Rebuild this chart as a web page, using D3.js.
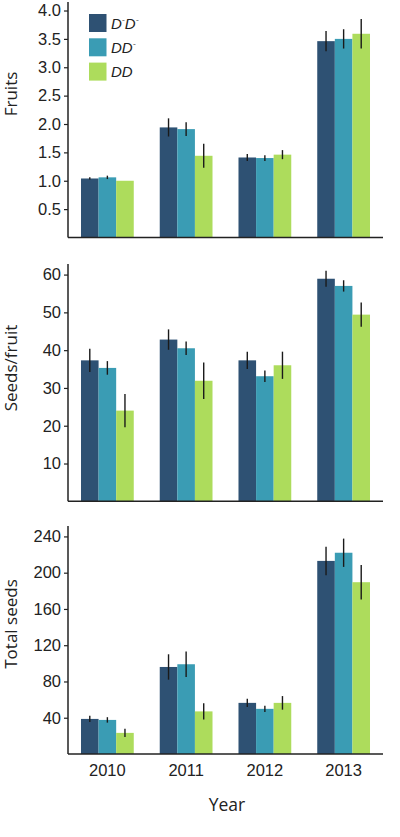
<!DOCTYPE html>
<html>
<head>
<meta charset="utf-8">
<script src="https://cdn.jsdelivr.net/npm/d3@7"></script>
<style>
  html, body { margin: 0; padding: 0; background: #fff; }
  svg { display: block; }
</style>
</head>
<body>
<svg id="chart" width="400" height="837"></svg>
<script>
const years = ["2010", "2011", "2012", "2013"];
const genotypes = ["D-D-", "DD-", "DD"];

// Fruits
const fruitsMean = [
  [1.04, 1.94, 1.41, 3.46],
  [1.06, 1.91, 1.40, 3.50],
  [1.00, 1.44, 1.46, 3.59]
];
const fruitsErr = [
  [0.02, 0.16, 0.06, 0.18],
  [0.03, 0.12, 0.05, 0.17],
  [0.00, 0.21, 0.08, 0.26]
];
// Seeds per fruit
const seedsMean = [
  [37.3, 42.8, 37.3, 58.9],
  [35.3, 40.5, 33.1, 57.0],
  [24.0, 31.9, 36.0, 49.4]
];
const seedsErr = [
  [3.1, 2.7, 2.3, 2.1],
  [1.8, 1.8, 1.5, 1.5],
  [4.4, 4.8, 3.6, 3.2]
];
// Total seeds
const totalMean = [
  [38.7, 96, 56.4, 213],
  [37.6, 99, 49.8, 222],
  [23.3, 47, 56.4, 189.5]
];
const totalErr = [
  [3.5, 14, 4.5, 15.7],
  [3.0, 14, 3.5, 15.6],
  [4.5, 9, 7.5, 19]
];

const fruitTicks = [0.5, 1.0, 1.5, 2.0, 2.5, 3.0, 3.5, 4.0];
const seedTicks = [10, 20, 30, 40, 50, 60];
const totalTicks = [40, 80, 120, 160, 200, 240];

const colors = ["#2e5173", "#3a9cb4", "#addc5c"];

const svg = d3.select("#chart");
const x0 = 68, x1 = 383;

const xBand = d3.scaleBand().domain(years).range([x0, x1]).paddingInner(0.33).paddingOuter(0.165);
const xSub = d3.scaleBand().domain(d3.range(genotypes.length)).range([0, xBand.bandwidth()]);

const panels = [
  { mean: fruitsMean, err: fruitsErr, ticks: fruitTicks, fmt: d3.format(".1f"), domain: [0, 4.15], range: [237.5, 2], title: "Fruits", titleY: 94 },
  { mean: seedsMean, err: seedsErr, ticks: seedTicks, fmt: d3.format("d"), domain: [0, 62.8], range: [501.3, 264], title: "Seeds/fruit", titleY: 368 },
  { mean: totalMean, err: totalErr, ticks: totalTicks, fmt: d3.format("d"), domain: [0, 251.5], range: [754, 526], title: "Total seeds", titleY: 624 }
];

panels.forEach((p, pi) => {
  const y = d3.scaleLinear().domain(p.domain).range(p.range);
  const g = svg.append("g");

  // bars
  genotypes.forEach((gt, gi) => {
    const data = years.map((yr, i) => ({ yr, v: p.mean[gi][i], e: p.err[gi][i] }));
    g.selectAll(null).data(data).enter().append("rect")
      .attr("x", d => xBand(d.yr) + xSub(gi))
      .attr("width", xSub.bandwidth())
      .attr("y", d => y(d.v))
      .attr("height", d => y(0) - y(d.v))
      .attr("fill", colors[gi]);
    g.selectAll(null).data(data.filter(d => d.e > 0)).enter().append("line")
      .attr("x1", d => xBand(d.yr) + xSub(gi) + xSub.bandwidth() / 2)
      .attr("x2", d => xBand(d.yr) + xSub(gi) + xSub.bandwidth() / 2)
      .attr("y1", d => y(d.v + d.e))
      .attr("y2", d => y(d.v - d.e))
      .attr("stroke", "#1a1a1a")
      .attr("stroke-width", 1.4);
  });

  // y axis
  const yAxis = d3.axisLeft(y).tickValues(p.ticks).tickFormat(p.fmt).tickSize(4).tickPadding(3);
  const ya = g.append("g").attr("transform", `translate(${x0},0)`).call(yAxis);
  ya.select(".domain").attr("d", `M0,${p.range[1]}V${p.range[0]}`).attr("stroke", "#222").attr("stroke-width", 1.5);
  ya.selectAll(".tick line").attr("stroke", "#222").attr("stroke-width", 1.2);
  ya.selectAll(".tick text").attr("font-family", "Liberation Sans, Arial, sans-serif").attr("font-size", 16.5).attr("fill", "#222");

  // x axis line
  const xAxis = d3.axisBottom(xBand).tickSize(0).tickPadding(10);
  const xa = g.append("g").attr("transform", `translate(0,${p.range[0]})`).call(xAxis);
  xa.select(".domain").attr("d", `M${x0},0H${x1}`).attr("stroke", "#222").attr("stroke-width", 1.5);
  if (pi < 2) {
    xa.selectAll(".tick text").remove();
  } else {
    xa.selectAll(".tick text").attr("font-family", "Liberation Sans, Arial, sans-serif").attr("font-size", 16.5).attr("fill", "#222");
  }

  // y title
  svg.append("text")
    .attr("transform", `translate(17,${p.titleY}) rotate(-90)`)
    .attr("text-anchor", "middle")
    .attr("font-family", "Open Sans, sans-serif")
    .attr("font-size", 17)
    .attr("fill", "#222")
    .text(p.title);
});

// x title
svg.append("text")
  .attr("x", 227).attr("y", 811)
  .attr("text-anchor", "middle")
  .attr("font-family", "Open Sans, sans-serif")
  .attr("font-size", 17.5)
  .attr("fill", "#222")
  .text("Year");

// legend
const legendLabels = [
  [["D", false], ["-", true], ["D", false], ["-", true]],
  [["D", false], ["D", false], ["-", true]],
  [["D", false], ["D", false]]
];
const leg = svg.append("g").attr("transform", "translate(89,14)");
genotypes.forEach((gt, i) => {
  const row = leg.append("g").attr("transform", `translate(0,${i * 24.3})`);
  row.append("rect").attr("width", 17.5).attr("height", 18).attr("fill", colors[i]);
  const t = row.append("text").attr("x", 22).attr("y", 14.5)
    .attr("font-family", "Liberation Sans, Arial, sans-serif")
    .attr("font-style", "italic").attr("font-size", 15).attr("fill", "#222");
  legendLabels[i].forEach(([s, sup]) => {
    const ts = t.append("tspan").text(sup ? "-" : s);
    if (sup) ts.attr("font-size", 9).attr("dy", -6);
    else ts.attr("dy", 0);
  });
  t.selectAll("tspan").each(function(d, k) {
    const prev = k > 0 ? legendLabels[i][k - 1][1] : false;
    if (!legendLabels[i][k][1] && prev) d3.select(this).attr("dy", 6);
  });
});
</script>
</body>
</html>
